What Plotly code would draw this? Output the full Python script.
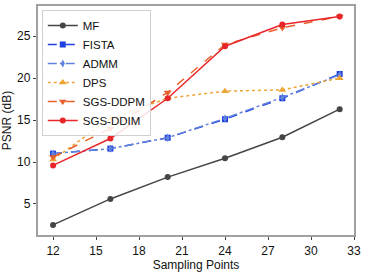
import plotly.graph_objects as go

x = [12, 16, 20, 24, 28, 32]
mf = [2.5, 5.6, 8.2, 10.45, 12.95, 16.3]
fista = [11.0, 11.6, 12.9, 15.1, 17.6, 20.5]
admm = [11.0, 11.6, 12.9, 15.2, 17.7, 20.4]
dps = [10.3, 15.2, 17.6, 18.45, 18.6, 20.0]
ddpm = [10.6, 14.0, 18.3, 24.0, 26.0, 27.35]
ddim = [9.6, 12.8, 17.6, 23.8, 26.4, 27.35]
xticks = [12, 15, 18, 21, 24, 27, 30, 33]
yticks = [5, 10, 15, 20, 25]

series = [
    ("MF", mf, "#454545", "solid", "circle", 6),
    ("FISTA", fista, "#1f3fe0", "dash", "square", 6),
    ("ADMM", admm, "#5f82dc", "dashdot", "diamond-tall", 6),
    ("DPS", dps, "#eba535", "dot", "triangle-up", 7),
    ("SGS-DDPM", ddpm, "#e8602c", "dash", "triangle-down", 7),
    ("SGS-DDIM", ddim, "#e8262a", "solid", "circle", 6),
]

fig = go.Figure()
for name, ys, col, dash, sym, sz in series:
    fig.add_trace(go.Scatter(
        x=x, y=ys, name=name, mode="lines+markers",
        line=dict(color=col, width=1.5, dash=dash),
        marker=dict(color=col, symbol=sym, size=sz),
    ))

axis_common = dict(
    showline=True, linecolor="#a0a0a0", linewidth=1.5, mirror=True,
    ticks="outside", ticklen=3.5, tickcolor="#444", showgrid=False, zeroline=False,
    tickfont=dict(size=12, color="#111"), automargin=False,
)
fig.update_layout(
    width=366, height=272,
    margin=dict(l=38, r=12, t=6, b=37),
    paper_bgcolor="white", plot_bgcolor="white",
    font=dict(family="Liberation Sans, Arial", size=11.5, color="#111"),
    xaxis=dict(range=[10.95, 33], tickvals=xticks,
               title=dict(text="Sampling Points", font=dict(size=12), standoff=6), **axis_common),
    yaxis=dict(range=[1.3, 28.6], tickvals=yticks,
               title=dict(text="PSNR (dB)", font=dict(size=12)), **axis_common),
    legend=dict(x=0.012, y=0.982, xanchor="left", yanchor="top",
                bgcolor="rgba(255,255,255,0.85)", bordercolor="#d0d0d0", borderwidth=1,
                font=dict(size=11.5), tracegroupgap=0, itemwidth=30),
    showlegend=True,
)
fig.write_html("out.html", config={"displayModeBar": False},
               post_script="document.body.style.margin='0';document.body.style.overflow='hidden';")
